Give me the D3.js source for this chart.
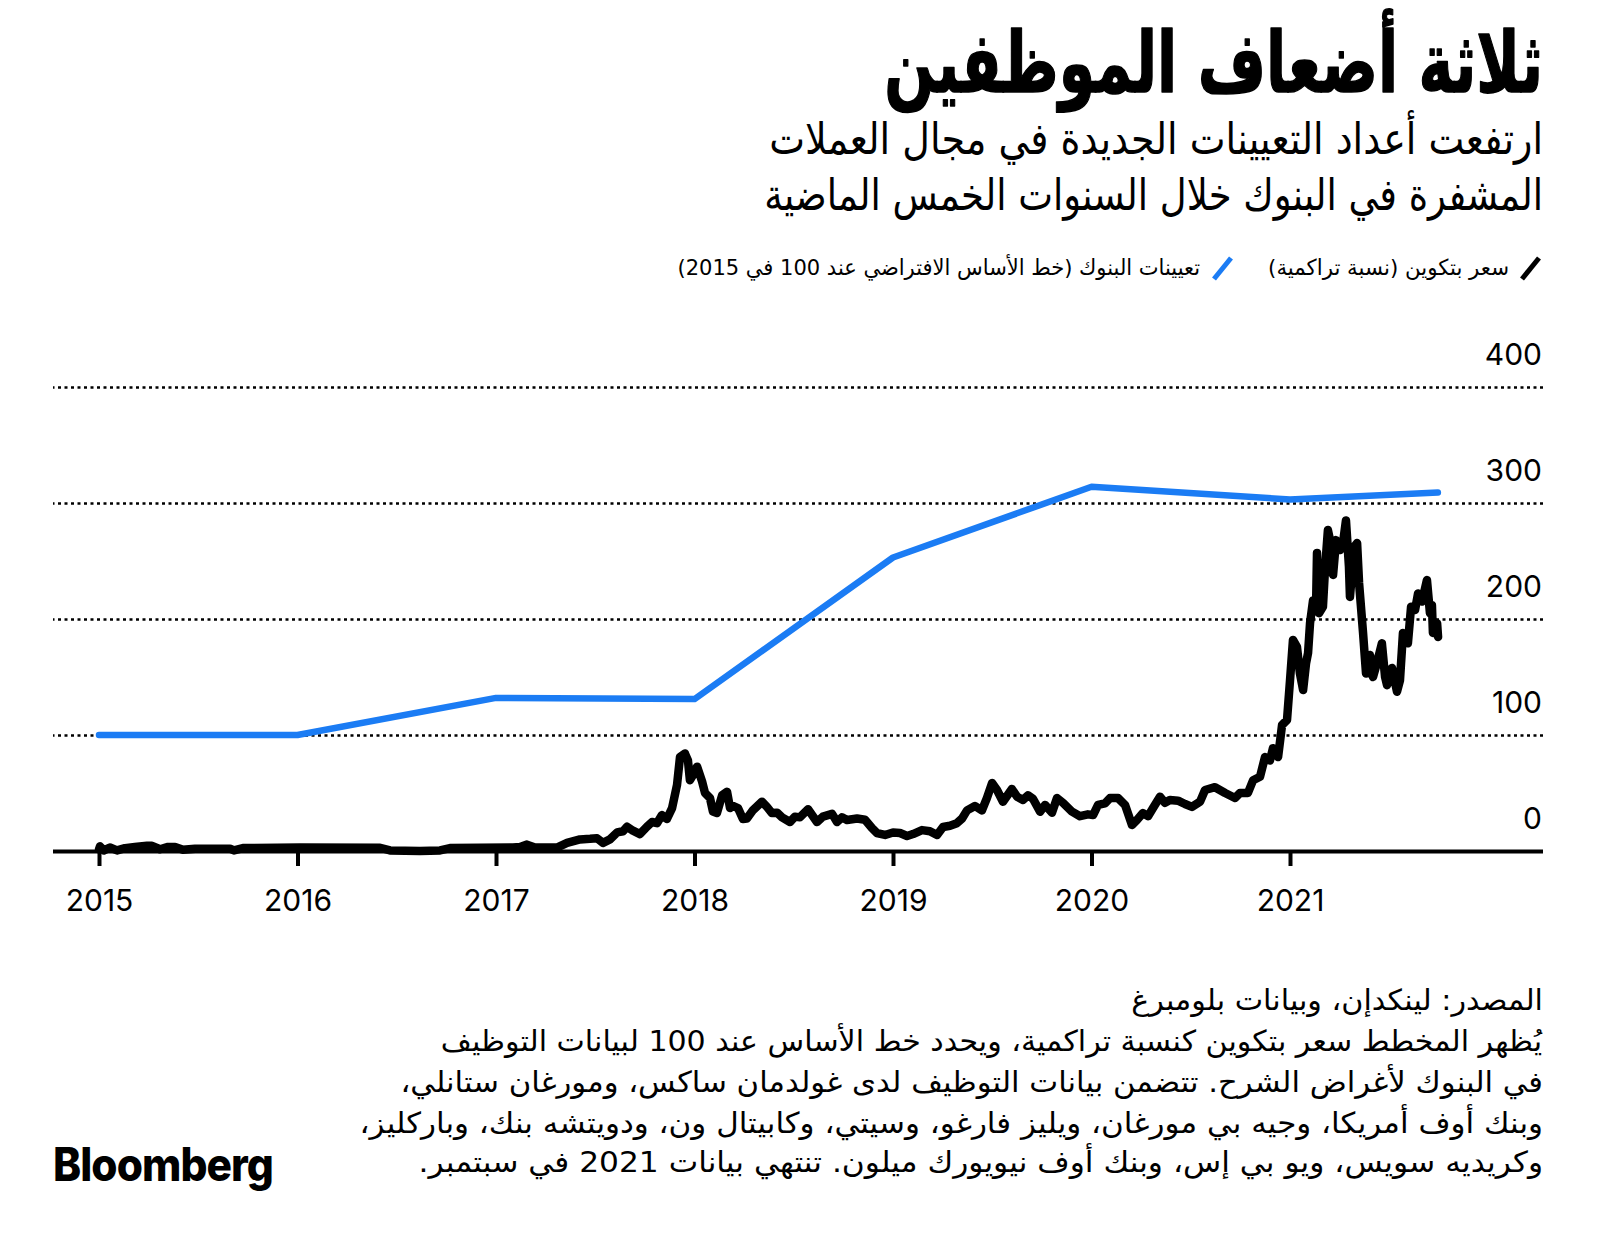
<!DOCTYPE html>
<html><head><meta charset="utf-8">
<script src="https://cdn.jsdelivr.net/npm/d3@7"></script>
<style>body{margin:0;background:#fff}svg{display:block}</style>
</head><body>
<svg id="c" width="1600" height="1247"></svg>
<script>
// ---------- data ----------
const tickYears = [2015, 2016, 2017, 2018, 2019, 2020, 2021];
const tickLabels = ["2015", "2016", "2017", "2018", "2019", "2020", "2021"];
const yTicks = [0, 100, 200, 300, 400];

const hiringDates = [2015, 2016, 2017, 2018, 2019, 2020, 2021, 2021.745];
const hiringValues = [100, 100, 132, 131, 253, 314, 303, 309];

const btcDates = [2015.000,2015.005,2015.025,2015.055,2015.091,2015.131,2015.181,2015.242,2015.267,2015.307,2015.348,2015.383,2015.423,2015.484,2015.660,2015.680,2015.725,
2016.013,2016.416,2016.466,2016.617,2016.718,2016.768,
2017.086,2017.121,2017.156,2017.196,2017.307,2017.358,2017.423,2017.474,2017.509,2017.539,2017.574,2017.610,2017.640,2017.660,2017.690,2017.725,2017.761,2017.786,2017.811,2017.836,2017.861,2017.887,2017.912,2017.927,2017.952,2017.967,2017.977,2017.992,
2018.013,2018.038,2018.053,2018.078,2018.093,2018.113,2018.139,2018.164,2018.179,2018.194,2018.219,2018.244,2018.264,2018.295,2018.340,2018.365,2018.390,2018.416,2018.441,2018.481,2018.506,2018.531,2018.572,2018.617,2018.647,2018.693,2018.718,2018.743,2018.768,2018.819,2018.859,2018.894,2018.919,2018.960,
2019.000,2019.035,2019.071,2019.101,2019.146,2019.186,2019.222,2019.252,2019.287,2019.322,2019.348,2019.373,2019.413,2019.448,2019.473,2019.499,2019.524,2019.554,2019.599,2019.625,2019.655,2019.680,2019.705,2019.741,2019.766,2019.801,2019.826,2019.856,2019.902,2019.942,2019.982,
2020.008,2020.033,2020.068,2020.093,2020.134,2020.169,2020.204,2020.229,2020.259,2020.285,2020.310,2020.345,2020.370,2020.395,2020.436,2020.471,2020.506,2020.547,2020.572,2020.622,2020.673,2020.723,2020.748,2020.788,2020.814,2020.849,2020.874,2020.899,2020.914,2020.940,2020.960,2020.985,
2021.000,2021.015,2021.035,2021.050,2021.066,2021.081,2021.091,2021.101,2021.116,2021.131,2021.136,2021.146,2021.166,2021.176,2021.191,2021.212,2021.217,2021.232,2021.252,2021.267,2021.282,2021.297,2021.302,2021.312,2021.322,2021.338,2021.348,2021.368,2021.383,2021.403,2021.418,2021.438,2021.463,2021.479,2021.489,2021.514,2021.539,2021.554,2021.569,2021.594,2021.610,2021.630,2021.645,2021.665,2021.690,2021.705,2021.715,2021.720,2021.741,2021.746];

const btcValues = [1.5,4,0.5,3,0.5,2.5,3.5,4.5,4.5,1.5,3.5,3.5,1,2,2,0.5,2.5,
3,2.8,0.5,0,0.5,2.5,
3,3.5,5.5,3,3,7,10,10.5,11,7,10,16,17,21,17.5,14.6,21,25,24,31,27.6,37,57,81,84,78,61,65.5,
72.7,60,50,45.7,34,32.7,48,51,37,38.8,37,27.6,28,35.3,42.5,38,32.7,33,29,25,29.6,29,36,25,29.6,32,25,29,26.7,28,27,19.8,15.5,13.8,
16,15.5,12.9,14.6,18,17,13.8,20.7,21.8,24,28,35,38.8,35,45.6,58.6,52.6,42.5,53.4,46.8,44,48,45,33.9,39.7,33,45.6,41.6,33.9,30,31.6,
31,39.7,41,45.6,45.6,39.7,22.4,26.7,32.7,30,37,46.8,41.6,44,43.4,40.5,38,42.5,52.6,55,50,45.7,50,50,61,64,81,78,88.6,81,108.6,113,
147,182,176,153,138.8,162,170.7,196.5,216,207.7,257,205,210.6,242,276.7,259.5,238,268,259.5,265.5,285,245,219,239.7,262,265.5,231,188,153,169,150,162,179,150,143,157.8,137.3,147,188,179,210.6,207.7,222,215,233.6,205,212,188,196.5,184.5];

const titleText = "ثلاثة أضعاف الموظفين";
const subtitleLines = ["ارتفعت أعداد التعيينات الجديدة في مجال العملات", "المشفرة في البنوك خلال السنوات الخمس الماضية"];
const legendLabels = ["سعر بتكوين (نسبة تراكمية)", "تعيينات البنوك (خط الأساس الافتراضي عند 100 في 2015)"];
const footLines = [
  "المصدر: لينكدإن، وبيانات بلومبرغ",
  "يُظهر المخطط سعر بتكوين كنسبة تراكمية، ويحدد خط الأساس عند 100 لبيانات التوظيف",
  "في البنوك لأغراض الشرح. تتضمن بيانات التوظيف لدى غولدمان ساكس، ومورغان ستانلي،",
  "وبنك أوف أمريكا، وجيه بي مورغان، ويليز فارغو، وسيتي، وكابيتال ون، ودويتشه بنك، وباركليز،",
  "وكريديه سويس، ويو بي إس، وبنك أوف نيويورك ميلون. تنتهي بيانات 2021 في سبتمبر."
];

// ---------- layout ----------
const svg = d3.select("#c");
const AR = "'DejaVu Sans', sans-serif";
const NUM = "Inter, 'Liberation Sans', sans-serif";
const plotL = 53, plotR = 1543;
const BLUE = "#1b7cf4";

const x = d3.scaleLinear().domain([2015, 2021]).range([99, 1290]);
const y = d3.scaleLinear().domain([0, 400]).range([851, 387]);

function fitText(str, o) {
  const g = svg.append("g");
  const t = g.append("text")
    .attr("font-family", o.family || AR)
    .attr("font-size", o.size)
    .attr("font-weight", o.weight || 400)
    .attr("fill", o.fill || "#000")
    .attr("direction", o.ltr ? "ltr" : "rtl")
    .text(str);
  if (o.ls) t.attr("letter-spacing", o.ls);
  if (o.stroke) t.attr("stroke", o.fill || "#000").attr("stroke-width", o.stroke).attr("stroke-linejoin", "round");
  const bb = t.node().getBBox();
  const sx = o.width / bb.width;
  const right = o.right !== undefined ? o.right : o.left + o.width;
  g.attr("transform", `translate(${right - sx * (bb.x + bb.width)},${o.baseline}) scale(${sx},1)`);
  return g;
}

// title & subtitle
fitText(titleText, {size: 84, weight: 700, right: 1543, baseline: 92, width: 659, stroke: 1.5});
fitText(subtitleLines[0], {size: 44, right: 1543, baseline: 154, width: 774});
fitText(subtitleLines[1], {size: 44, right: 1543, baseline: 210, width: 779});

// legend
svg.append("line").attr("x1", 1522).attr("y1", 279).attr("x2", 1539).attr("y2", 258)
  .attr("stroke", "#000").attr("stroke-width", 5);
svg.append("line").attr("x1", 1214).attr("y1", 279).attr("x2", 1231).attr("y2", 258)
  .attr("stroke", BLUE).attr("stroke-width", 5);
fitText(legendLabels[0], {size: 22, right: 1509, baseline: 275, width: 241});
fitText(legendLabels[1], {size: 22, right: 1200, baseline: 275, width: 523});

// y axis (gridlines + labels)
const yAxis = svg.append("g").attr("transform", `translate(${plotR},0)`)
  .call(d3.axisLeft(y).tickValues(yTicks).tickSize(plotR - plotL).tickFormat(d3.format("d")));
yAxis.select(".domain").remove();
yAxis.selectAll(".tick line")
  .attr("stroke", "#000")
  .attr("stroke-width", d => d === 0 ? 4 : 2.6)
  .attr("stroke-dasharray", d => d === 0 ? null : "3,3.5");
yAxis.selectAll(".tick text")
  .attr("x", -1).attr("y", -23).attr("dy", null)
  .attr("text-anchor", "end")
  .attr("font-family", NUM).attr("font-size", 30).attr("fill", "#000");

// x axis
const xAxis = svg.append("g").attr("transform", `translate(0,${y(0)})`)
  .call(d3.axisBottom(x).tickValues(tickYears).tickSize(15).tickFormat((d, i) => tickLabels[i]));
xAxis.select(".domain").remove();
xAxis.selectAll(".tick line").attr("stroke", "#000").attr("stroke-width", 4);
xAxis.selectAll(".tick text")
  .attr("y", 60).attr("dy", null)
  .attr("font-family", NUM).attr("font-size", 30).attr("fill", "#000");

// lines
const hiring = hiringDates.map((d, i) => [d, hiringValues[i]]);
const btc = btcDates.map((d, i) => [d, btcValues[i]]);
const line = d3.line().x(d => x(d[0])).y(d => y(d[1]));

svg.append("path").datum(hiring).attr("d", line)
  .attr("fill", "none").attr("stroke", BLUE).attr("stroke-width", 6.5)
  .attr("stroke-linecap", "round").attr("stroke-linejoin", "round");
svg.append("path").datum(btc).attr("d", line)
  .attr("fill", "none").attr("stroke", "#000").attr("stroke-width", 8.5)
  .attr("stroke-linecap", "round").attr("stroke-linejoin", "round");

// footer
const footBase = [1010, 1051, 1092, 1133, 1172];
const footWidths = [412, 1103, 1143, 1184, 1125];
footLines.forEach((s, i) => fitText(s, {size: 29, right: 1543, baseline: footBase[i], width: footWidths[i]}));

// logo
fitText("Bloomberg", {size: 46, weight: 800, family: "Inter, 'Liberation Sans', sans-serif", ltr: true, left: 53, baseline: 1181, width: 220, ls: -1});
</script>
</body></html>
